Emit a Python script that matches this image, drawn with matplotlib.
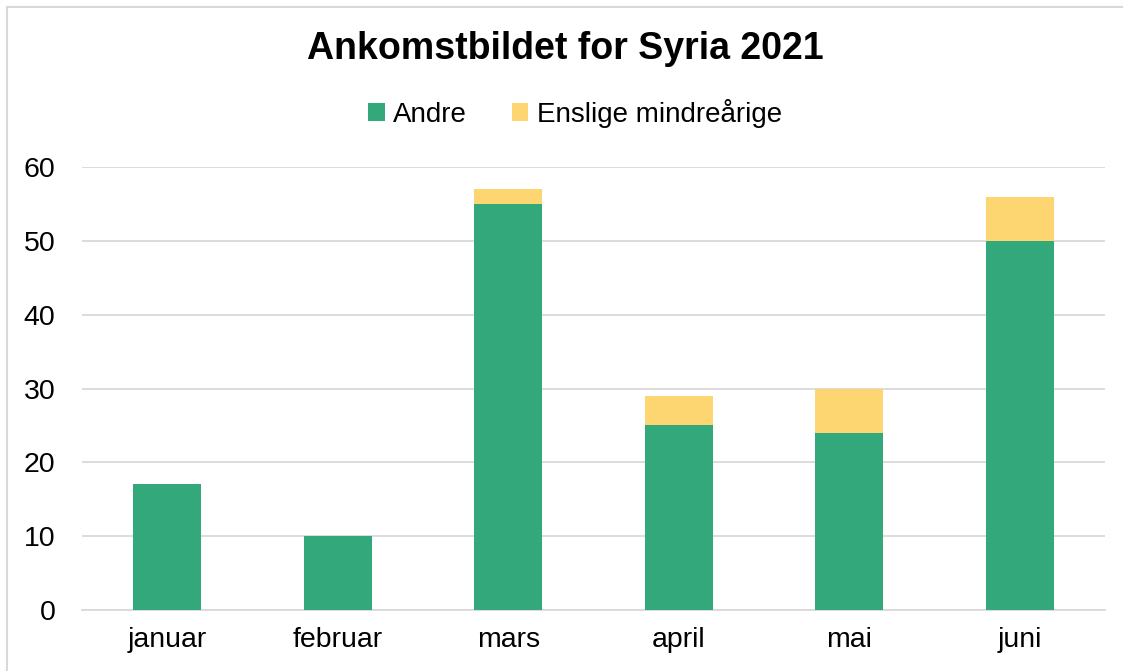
import numpy as np
import matplotlib.pyplot as plt
from matplotlib.lines import Line2D

plt.rcParams['font.family'] = ['Liberation Sans', 'DejaVu Sans']

maaneder = ['januar', 'februar', 'mars', 'april', 'mai', 'juni']
andre = [17, 10, 55, 25, 24, 50]
enslige = [0, 0, 2, 4, 6, 6]

gronn = '#33A87A'
gul = '#FDD672'

fig = plt.figure(figsize=(11.23, 6.71), dpi=100)
ax = fig.add_axes([0.073, 0.091, 0.911, 0.66])

x = np.arange(len(maaneder))
ax.bar(x, andre, width=0.4, color=gronn, label='Andre', zorder=3)
ax.bar(x, enslige, width=0.4, bottom=andre, color=gul, label='Enslige mindreårige', zorder=3)

ax.set_ylim(0, 60)
ax.set_xlim(-0.5, len(maaneder) - 0.5)
ax.set_yticks(range(0, 61, 10))
ax.set_xticks(x)
ax.set_xticklabels(maaneder)
ax.tick_params(axis='both', length=0, labelsize=20.5, colors='black')
ax.tick_params(axis='x', pad=12)
ax.tick_params(axis='y', pad=19)
ax.grid(axis='y', color='#D9D9D9', linewidth=1.3, zorder=0)
for s in ['left', 'right', 'top']:
    ax.spines[s].set_visible(False)
ax.spines['bottom'].set_color('#D9D9D9')
ax.spines['bottom'].set_linewidth(1.3)

fig.text(0.503, 0.927, 'Ankomstbildet for Syria 2021', ha='center', va='center',
         fontsize=27, fontweight='bold')
fig.legend(loc='center', bbox_to_anchor=(0.512, 0.831), ncol=2, frameon=False,
           fontsize=20, handlelength=0.6, handleheight=0.6, handletextpad=0.3,
           columnspacing=1.6)

# kantlinje oppe og til venstre
fig.add_artist(Line2D([0.006, 1.0], [0.990, 0.990], transform=fig.transFigure,
                      color='#D9D9D9', linewidth=1.5))
fig.add_artist(Line2D([0.006, 0.006], [0.0, 0.990], transform=fig.transFigure,
                      color='#D9D9D9', linewidth=1.5))

fig.savefig('out.png', dpi=100)
